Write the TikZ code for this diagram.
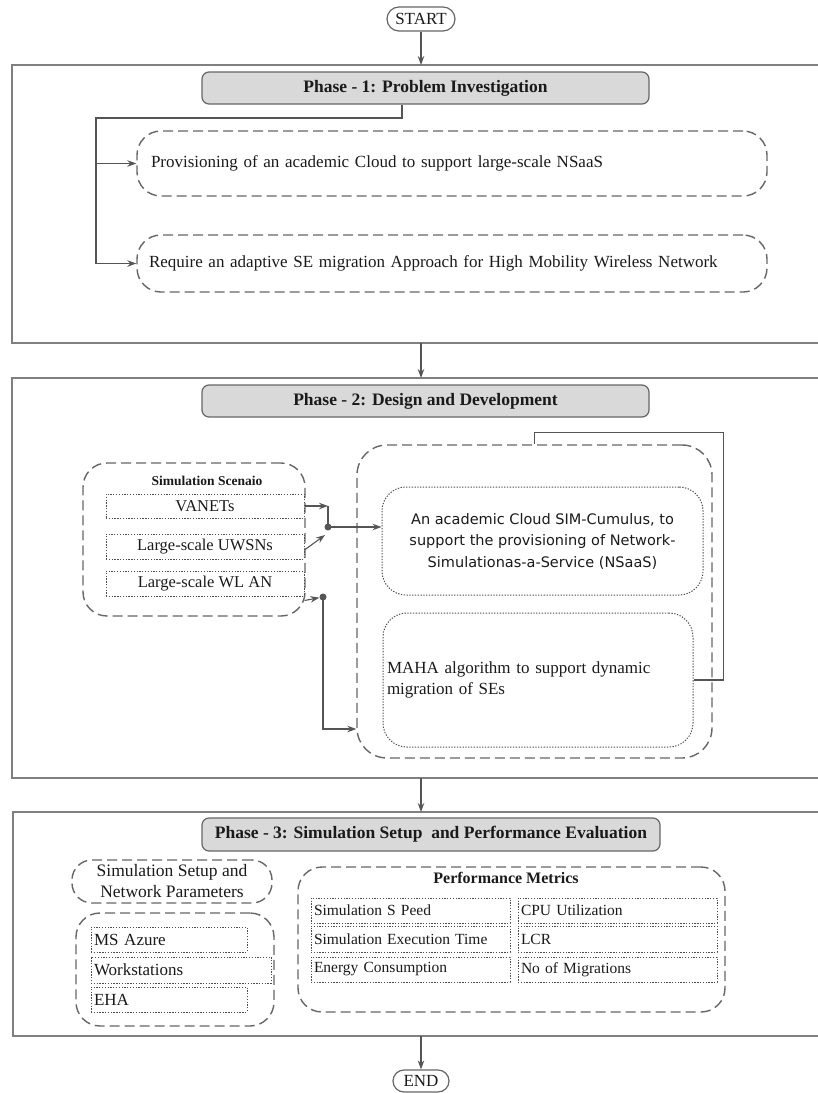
\documentclass[tikz,border=0pt]{standalone}
\usepackage{fontspec}
\setmainfont{Liberation Serif}
\newfontfamily\cloudfont{DejaVu Sans}
\usetikzlibrary{arrows.meta,shapes.misc}

\definecolor{framegray}{HTML}{808080}
\definecolor{linegray}{HTML}{555555}
\definecolor{hdrfill}{HTML}{D9D9D9}
\definecolor{dashgray}{HTML}{666666}
\definecolor{dotgray}{HTML}{4D4D4D}
\definecolor{txt}{HTML}{1A1A1A}

\tikzset{
  frame/.style={draw=framegray, line width=1.6pt},
  header/.style={draw=dashgray, fill=hdrfill, rounded corners=7pt, line width=1.2pt,
    font=\bfseries\fontsize{17.5}{21}\selectfont, text=txt, inner sep=0pt},
  pill/.style={draw=dashgray, rounded rectangle, line width=1.2pt,
    font=\fontsize{17}{20}\selectfont, text=txt, inner sep=0pt},
  dbox/.style={draw=dashgray, line width=1.4pt, dash pattern=on 10pt off 5pt,
    rounded corners=#1, text=txt},
  dbox/.default=24pt,
  obox/.style={draw=dotgray, line width=1pt, dash pattern=on 1.3pt off 1.5pt, text=txt},
  link/.style={draw=linegray, line width=1.1pt},
  arr/.style={link, -{Stealth[length=9pt,width=6.5pt]}},
  jdot/.style={circle, fill=linegray, inner sep=0pt, minimum size=7pt},
  body/.style={font=\fontsize{17}{21}\selectfont},
  small/.style={font=\fontsize{15.5}{18}\selectfont},
}

\begin{document}
\begin{tikzpicture}[x=1pt,y=-1pt]
\useasboundingbox (0,0) rectangle (818,1093);

% ---------- start ----------
\node[pill, minimum width=68, minimum height=24] (start) at (421,19) {START};

% ---------- phase 1 ----------
\draw[frame] (818,65) -- (12,65) -- (12,343) -- (818,343);
\coordinate (p1top) at (421,65);
\coordinate (p1bot) at (421,343);
\draw[arr] (start.south) -- (p1top);

\node[header, minimum width=447, minimum height=32] (h1) at (425.5,88)
  {Phase - 1: Problem Investigation};

\node[dbox, body, minimum width=630, minimum height=65, text width=602,
  inner xsep=14, align=left] (p1a) at (452,163.5)
  {Provisioning of an academic Cloud to support large-scale NSaaS};
\node[dbox, body, minimum width=630, minimum height=57, text width=606,
  inner xsep=12, align=left] (p1b) at (452,263.5)
  {Require an adaptive SE migration Approach for High Mobility Wireless Network};

\coordinate (p1bus) at (96,118);
\draw[link] ([xshift=-23.5]h1.south) |- (p1bus) -- (p1bus |- p1b.west);
\draw[arr] (p1bus |- p1a.west) -- (p1a.west);
\draw[arr] (p1bus |- p1b.west) -- (p1b.west);

% ---------- phase 2 ----------
\draw[frame] (818,378) -- (12,378) -- (12,778) -- (818,778);
\coordinate (p2top) at (421,378);
\coordinate (p2bot) at (421,778);
\draw[arr] (p1bot) -- (p2top);

\node[header, minimum width=447, minimum height=32] (h2) at (425.5,401)
  {Phase - 2: Design and Development};

% simulation scenarios
\node[dbox, minimum width=222, minimum height=153] (scen) at (194,539.5) {};
\node[font=\bfseries\fontsize{13.5}{16}\selectfont, text=txt, inner sep=0pt]
  (scent) at (207,481) {Simulation Scenaio};
\node[obox, minimum width=198, minimum height=24, inner sep=0pt,
  font=\fontsize{16.5}{19}\selectfont] (vanet) at (205,506) {VANETs};
\node[obox, minimum width=198, minimum height=25, inner sep=0pt,
  font=\fontsize{16.5}{19}\selectfont] (uwsn) at (205,546.5) {Large-scale UWSNs};
\node[obox, minimum width=198, minimum height=25, inner sep=0pt,
  font=\fontsize{16.5}{19}\selectfont] (wlan) at (205,583.5) {Large-scale WL AN};

% proposed solutions
\node[dbox=30pt, minimum width=355, minimum height=313] (sol) at (534.5,601.5) {};
\node[obox, rounded corners=24pt, minimum width=321, minimum height=108,
  align=center, inner sep=0pt,
  font=\cloudfont\fontsize{14.5}{21.5}\selectfont] (cloud) at (542.5,541)
  {An academic Cloud SIM-Cumulus, to\\support the provisioning of Network-\\Simulationas-a-Service (NSaaS)};
\node[obox, rounded corners=24pt, minimum width=310, minimum height=134,
  text width=302, inner xsep=4, align=left, body] (maha) at (538,680)
  {MAHA algorithm to support dynamic\\migration of SEs};

% links between scenarios and solutions
\node[jdot] (j1) at (328,527) {};
\node[jdot] (j2) at (323,597) {};
\draw[arr] (vanet.east) -- (j1 |- vanet.east);
\draw[link] (j1 |- vanet.east) -- (j1.center);
\draw[arr] ([yshift=-3.5]uwsn.east) -- ([xshift=-3,yshift=-8]j1.center);
\draw[arr] (j1.center) -- (j1 -| cloud.west);
\draw[arr] ([yshift=-4]wlan.south east) -- (j2);
\draw[arr] (j2.center) |- (sol.west |- 0,729);
\draw[link] (maha.east) -- ++(30,0) |- ([yshift=12]sol.north) -- (sol.north);

% ---------- phase 3 ----------
\draw[frame] (818,812) -- (13,812) -- (13,1036) -- (818,1036);
\coordinate (p3top) at (421,812);
\coordinate (p3bot) at (421,1036);
\draw[arr] (p2bot) -- (p3top);

\node[header, minimum width=458, minimum height=33] (h3) at (431,834.5)
  {Phase - 3: Simulation Setup\ \ and Performance Evaluation};

% setup and platforms
\node[dbox=20pt, minimum width=200, minimum height=43, align=center, inner sep=0pt,
  font=\fontsize{17.5}{21}\selectfont] (param) at (172,881.5)
  {Simulation Setup and\\Network Parameters};
\node[dbox, minimum width=198, minimum height=113] (plat) at (175,969.5) {};
\node[obox, minimum width=156, minimum height=25, text width=150, inner xsep=3,
  inner ysep=0pt, align=left, body] (azure) at (169,939.5) {MS Azure};
\node[obox, minimum width=180, minimum height=26, text width=174, inner xsep=3,
  inner ysep=0pt, align=left, body] (work) at (181,970) {Workstations};
\node[obox, minimum width=156, minimum height=25, text width=150, inner xsep=3,
  inner ysep=0pt, align=left, body] (eha) at (169,999.5) {EHA};

% performance metrics
\node[dbox, minimum width=427, minimum height=145] (perf) at (511.5,939.5) {};
\node[font=\bfseries\fontsize{16}{19}\selectfont, text=txt, inner sep=0pt]
  (perft) at (506,878) {Performance Metrics};
\tikzset{cell/.style={obox, small, minimum width=199, text width=193,
  inner xsep=3, inner ysep=0pt, align=left}}
\node[cell, minimum height=25] (m1) at (410.5,910.5) {Simulation S Peed};
\node[cell, minimum height=26] (m2) at (410.5,939) {Simulation Execution Time};
\node[cell, minimum height=25] (m3) at (410.5,969.5) {Energy Consumption};
\node[cell, minimum height=25] (m4) at (617.5,910.5) {CPU Utilization};
\node[cell, minimum height=26] (m5) at (617.5,939) {LCR};
\node[cell, minimum height=25] (m6) at (617.5,969.5) {No of Migrations};

% ---------- end ----------
\node[pill, minimum width=56, minimum height=22] (finish) at (421,1081) {END};
\draw[arr] (p3bot) -- (finish.north);

\end{tikzpicture}
\end{document}
